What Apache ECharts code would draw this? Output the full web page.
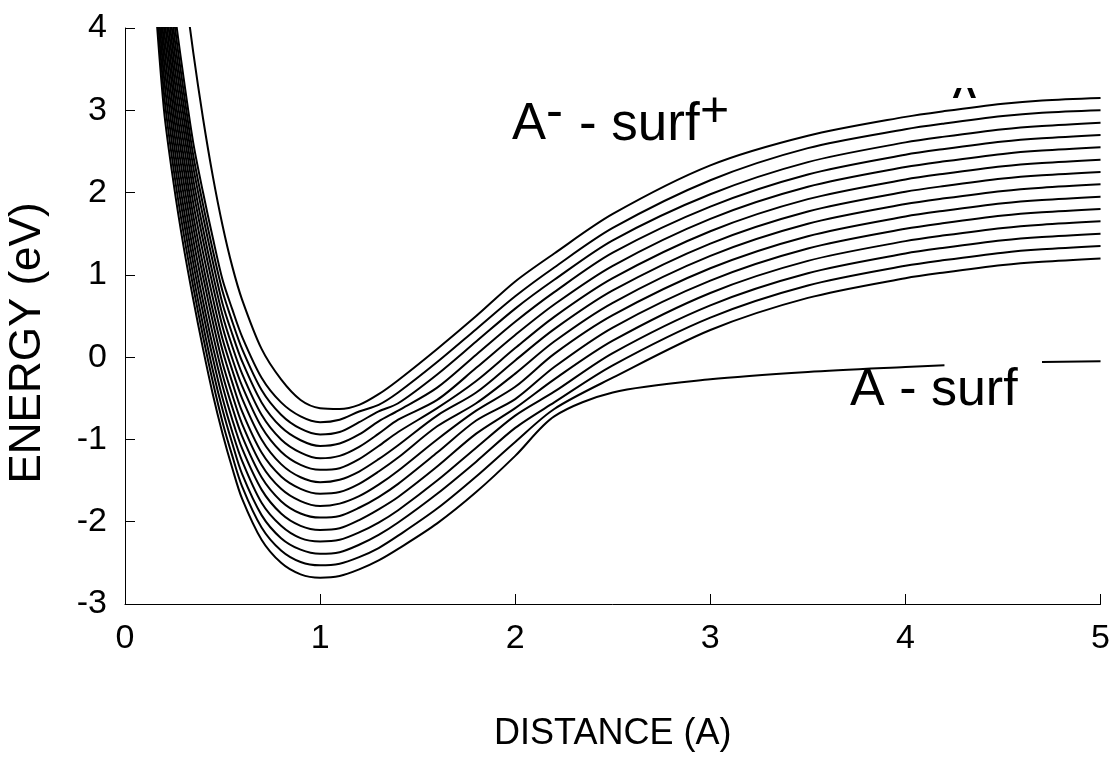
<!DOCTYPE html>
<html>
<head>
<meta charset="utf-8">
<script src="https://cdn.jsdelivr.net/npm/echarts@6/dist/echarts.min.js"></script>
<style>
  html, body { margin: 0; padding: 0; background: #fff; }
  #chart { width: 1113px; height: 776px; }
</style>
</head>
<body>
<div id="chart"></div>
<script>
  const distance = [0.15, 0.2, 0.25, 0.3, 0.35, 0.4, 0.45, 0.5, 0.55, 0.6, 0.7, 0.8, 0.9, 1.0, 1.1,
    1.2, 1.3, 1.4, 1.6, 1.8, 2.0, 2.2, 2.5, 3.0, 3.5, 4.0, 4.2, 4.5, 4.7, 5.0];

  // energies (eV), lowest curve first
  const curve1 = [4.5, 3.0, 2.1, 1.35, 0.7, 0.1, -0.45, -0.93, -1.35, -1.72, -2.22, -2.5, -2.64, -2.68, -2.66, -2.58, -2.47, -2.33, -2.02, -1.64, -1.2, -0.72, -0.43, -0.27, -0.18, -0.12, -0.1, null, -0.06, -0.05];
  const curve2 = [4.73, 3.2, 2.27, 1.51, 0.85, 0.25, -0.3, -0.79, -1.2, -1.57, -2.07, -2.35, -2.49, -2.53, -2.51, -2.43, -2.32, -2.17, -1.84, -1.45, -1.03, -0.63, -0.25, 0.33, 0.72, 0.96, 1.03, 1.12, 1.16, 1.2];
  const curve3 = [4.96, 3.4, 2.44, 1.67, 0.99, 0.39, -0.16, -0.64, -1.05, -1.42, -1.92, -2.2, -2.34, -2.39, -2.37, -2.28, -2.16, -2.01, -1.66, -1.27, -0.86, -0.55, -0.1, 0.48, 0.87, 1.11, 1.18, 1.27, 1.31, 1.35];
  const curve4 = [5.19, 3.6, 2.61, 1.82, 1.14, 0.54, -0.01, -0.5, -0.91, -1.26, -1.77, -2.05, -2.2, -2.24, -2.22, -2.13, -2.01, -1.86, -1.5, -1.1, -0.71, -0.42, 0.05, 0.63, 1.02, 1.26, 1.33, 1.42, 1.46, 1.5];
  const curve5 = [5.42, 3.8, 2.78, 1.98, 1.28, 0.68, 0.13, -0.35, -0.76, -1.11, -1.61, -1.9, -2.05, -2.1, -2.08, -1.98, -1.85, -1.7, -1.33, -0.93, -0.62, -0.27, 0.2, 0.78, 1.17, 1.41, 1.48, 1.57, 1.61, 1.65];
  const curve6 = [5.65, 4.0, 2.95, 2.14, 1.43, 0.83, 0.28, -0.21, -0.61, -0.96, -1.46, -1.75, -1.9, -1.95, -1.93, -1.83, -1.7, -1.54, -1.16, -0.77, -0.51, -0.12, 0.36, 0.93, 1.32, 1.56, 1.63, 1.72, 1.76, 1.8];
  const curve7 = [5.88, 4.2, 3.12, 2.3, 1.58, 0.98, 0.43, -0.07, -0.46, -0.81, -1.31, -1.6, -1.75, -1.81, -1.78, -1.69, -1.55, -1.38, -1.0, -0.65, -0.36, 0.04, 0.51, 1.08, 1.47, 1.71, 1.78, 1.87, 1.91, 1.95];
  const curve8 = [6.12, 4.4, 3.28, 2.45, 1.72, 1.12, 0.57, 0.08, -0.31, -0.66, -1.16, -1.45, -1.6, -1.66, -1.64, -1.54, -1.39, -1.22, -0.84, -0.56, -0.2, 0.19, 0.66, 1.23, 1.62, 1.86, 1.93, 2.02, 2.06, 2.1];
  const curve9 = [6.35, 4.6, 3.45, 2.61, 1.87, 1.27, 0.72, 0.22, -0.16, -0.5, -1.0, -1.3, -1.46, -1.52, -1.49, -1.39, -1.24, -1.07, -0.71, -0.43, -0.04, 0.34, 0.81, 1.38, 1.77, 2.01, 2.08, 2.17, 2.21, 2.25];
  const curve10 = [6.58, 4.8, 3.62, 2.77, 2.02, 1.42, 0.87, 0.37, -0.02, -0.35, -0.85, -1.15, -1.31, -1.37, -1.35, -1.24, -1.08, -0.91, -0.62, -0.29, 0.11, 0.49, 0.96, 1.53, 1.92, 2.16, 2.23, 2.32, 2.36, 2.4];
  const curve11 = [6.81, 5.0, 3.79, 2.93, 2.16, 1.56, 1.01, 0.51, 0.13, -0.2, -0.7, -1.0, -1.16, -1.23, -1.2, -1.09, -0.93, -0.76, -0.52, -0.13, 0.27, 0.64, 1.11, 1.68, 2.07, 2.31, 2.38, 2.47, 2.51, 2.55];
  const curve12 = [7.04, 5.2, 3.96, 3.08, 2.31, 1.71, 1.16, 0.65, 0.28, -0.05, -0.55, -0.85, -1.01, -1.08, -1.05, -0.94, -0.78, -0.65, -0.37, 0.03, 0.43, 0.79, 1.27, 1.83, 2.22, 2.46, 2.53, 2.62, 2.66, 2.7];
  const curve13 = [7.27, 5.4, 4.13, 3.24, 2.45, 1.85, 1.3, 0.8, 0.43, 0.1, -0.4, -0.7, -0.87, -0.94, -0.91, -0.79, -0.66, -0.56, -0.21, 0.19, 0.59, 0.94, 1.42, 1.98, 2.37, 2.61, 2.68, 2.77, 2.81, 2.85];
  const curve14 = [7.5, 5.6, 4.3, 3.4, 2.6, 2.0, 1.45, 0.94, 0.58, 0.25, -0.25, -0.55, -0.72, -0.79, -0.76, -0.66, -0.58, -0.43, -0.06, 0.34, 0.74, 1.09, 1.57, 2.15, 2.54, 2.77, 2.84, 2.93, 2.97, 3.0];
  const curve15 = [null, null, null, 4.6, 3.7, 2.9, 2.2, 1.6, 1.1, 0.7, 0.1, -0.27, -0.52, -0.62, -0.63, -0.58, -0.45, -0.28, 0.1, 0.5, 0.92, 1.26, 1.74, 2.33, 2.69, 2.92, 2.99, 3.08, 3.12, 3.15];

  const curves = [curve1, curve2, curve3, curve4, curve5, curve6, curve7, curve8,
    curve9, curve10, curve11, curve12, curve13, curve14, curve15];

  const font = 'Liberation Sans, Arial, sans-serif';
  const chart = echarts.init(document.getElementById('chart'));

  const series = curves.map(function (c) {
    return {
      type: 'line',
      showSymbol: false,
      smooth: 0.3,
      connectNulls: false,
      lineStyle: { color: '#000', width: 2 },
      data: distance.map(function (x, i) { return [x, c[i] === null ? '-' : c[i]]; })
    };
  });

  const option = {
    animation: false,
    grid: { left: 125, right: 11, top: 28, bottom: 172 },
    xAxis: {
      type: 'value',
      min: 0,
      max: 5,
      interval: 1,
      name: 'DISTANCE (A)',
      nameLocation: 'middle',
      nameGap: 112,
      nameTextStyle: { fontSize: 36, color: '#000', fontFamily: font },
      axisLine: { onZero: false, lineStyle: { color: '#000', width: 1 } },
      axisTick: { inside: true, length: 10, lineStyle: { color: '#000' } },
      axisLabel: { fontSize: 34, color: '#000', margin: 18, fontFamily: font },
      splitLine: { show: false }
    },
    yAxis: {
      type: 'value',
      min: -3,
      max: 4,
      interval: 1,
      axisLine: { show: true, onZero: false, lineStyle: { color: '#000', width: 1 } },
      axisTick: { show: true, inside: true, length: 10, lineStyle: { color: '#000' } },
      axisLabel: { fontSize: 34, color: '#000', margin: 18, fontFamily: font },
      splitLine: { show: false }
    },
    graphic: [
      { type: 'text', z: 0, style: { text: 'A', x: 947, y: 98, fontSize: 52, fontFamily: font, fill: '#000', verticalAlign: 'middle' } },
      { type: 'rect', z: 1, shape: { x: 935, y: 98, width: 60, height: 45 }, style: { fill: '#fff' } },
      { type: 'rect', z: 1, shape: { x: 935, y: 55, width: 60, height: 33 }, style: { fill: '#fff' } },
      { type: 'text', z: 3, style: { text: 'A', x: 512, y: 125, fontSize: 51, fontFamily: font, fill: '#000', verticalAlign: 'middle' } },
      { type: 'text', z: 3, style: { text: '-', x: 546, y: 114, fontSize: 51, fontFamily: font, fill: '#000', verticalAlign: 'middle' } },
      { type: 'text', z: 3, style: { text: '- surf', x: 579, y: 125, fontSize: 53, fontFamily: font, fill: '#000', verticalAlign: 'middle' } },
      { type: 'text', z: 3, style: { text: '+', x: 700, y: 112, fontSize: 50, fontFamily: font, fill: '#000', verticalAlign: 'middle' } },
      { type: 'text', z: 3, style: { text: 'A - surf', x: 850, y: 391, fontSize: 52, fontFamily: font, fill: '#000', verticalAlign: 'middle' } },
      { type: 'text', z: 3, rotation: Math.PI / 2, x: 28, y: 343, style: { text: 'ENERGY (eV)', x: 0, y: 0, fontSize: 44, fontFamily: font, fill: '#000', align: 'center', verticalAlign: 'middle' } }
    ],
    series: series
  };

  chart.setOption(option);
</script>
</body>
</html>
